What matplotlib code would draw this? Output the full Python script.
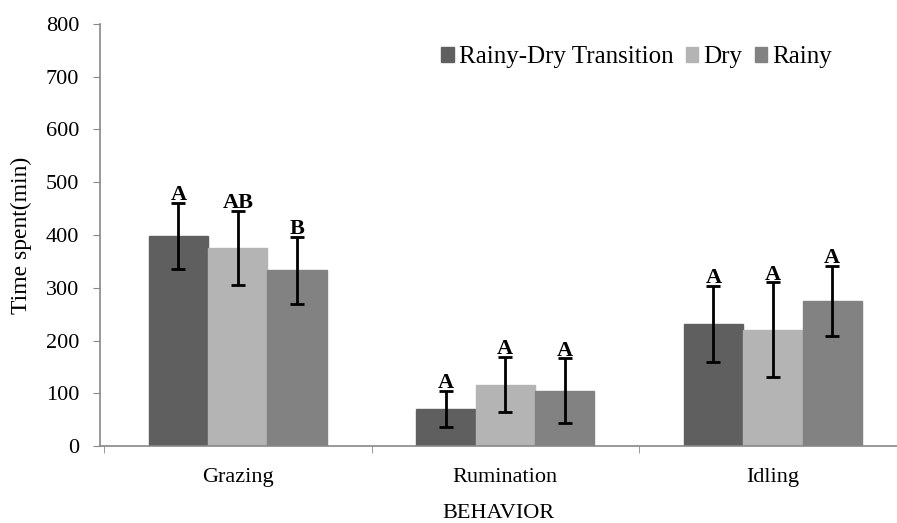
import matplotlib.pyplot as plt
import numpy as np

plt.rcParams["font.family"] = ["Liberation Serif", "DejaVu Serif"]

behaviors = ["Grazing", "Rumination", "Idling"]
seasons = ["Rainy-Dry Transition", "Dry", "Rainy"]

# mean time spent (min) per season, per behavior
means = {
    "Rainy-Dry Transition": [398, 70, 232],
    "Dry": [376, 116, 220],
    "Rainy": [333, 105, 275],
}
errors = {
    "Rainy-Dry Transition": [63, 34, 72],
    "Dry": [70, 52, 90],
    "Rainy": [63, 61, 67],
}
letters = {
    "Rainy-Dry Transition": ["A", "A", "A"],
    "Dry": ["AB", "A", "A"],
    "Rainy": ["B", "A", "A"],
}
colors = ["#5f5f5f", "#b4b4b4", "#828282"]

fig = plt.figure(figsize=(8.97, 5.23), dpi=100)
ax = fig.add_axes([100 / 897, 77 / 523, 797 / 897, 422 / 523])

x = np.arange(len(behaviors))
width = 0.222
for i, s in enumerate(seasons):
    pos = x + (i - 1) * width
    ax.bar(pos, means[s], width, color=colors[i], edgecolor=colors[i], label=s, zorder=2)
    ax.errorbar(pos, means[s], yerr=errors[s], fmt="none", ecolor="black",
                elinewidth=2, capsize=5, capthick=2, zorder=3)
    for p, m, e, t in zip(pos, means[s], errors[s], letters[s]):
        ax.text(p, m + e - 4, t, ha="center", va="bottom", fontsize=16,
                fontweight="bold", zorder=4)

ax.set_xlim(-0.515, 2.464)
ax.set_ylim(0, 800)
ax.set_yticks(range(0, 801, 100))
ax.set_xticks(x)
ax.set_xticklabels(behaviors, fontsize=16)
ax.set_xticks([-0.5, 0.5, 1.5], minor=True)
ax.tick_params(axis="x", which="major", length=0, pad=16)
ax.tick_params(axis="x", which="minor", length=5, color="#888888")
ax.tick_params(axis="y", length=5, color="#888888", labelsize=16, pad=10)

for sp in ["top", "right"]:
    ax.spines[sp].set_visible(False)
for sp in ["left", "bottom"]:
    ax.spines[sp].set_color("#888888")
    ax.spines[sp].set_linewidth(1.2)

ax.set_ylabel("Time spent(min)", fontsize=17, labelpad=10)
ax.set_xlabel("BEHAVIOR", fontsize=16, labelpad=12)

ax.legend(loc="upper left", bbox_to_anchor=(0.4, 1.0), ncol=3, frameon=False,
          fontsize=18, handlelength=0.5, handleheight=0.5, handletextpad=0.2,
          columnspacing=0.5)

fig.savefig("out.png", dpi=100)
